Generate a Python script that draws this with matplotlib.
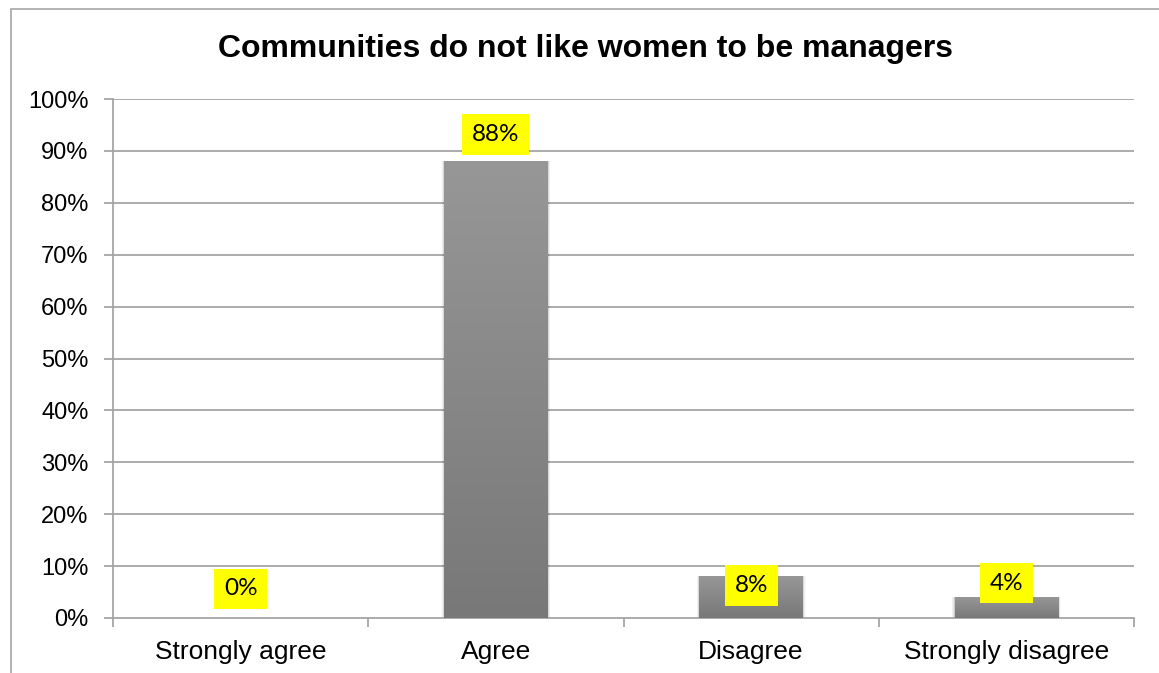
import numpy as np
import matplotlib
matplotlib.use("Agg")
import matplotlib.pyplot as plt
from matplotlib.patches import Rectangle
from matplotlib.ticker import FixedLocator

categories = ["Strongly agree", "Agree", "Disagree", "Strongly disagree"]
values = [0, 88, 8, 4]
value_labels = ["0%", "88%", "8%", "4%"]
y_ticks = [0, 10, 20, 30, 40, 50, 60, 70, 80, 90, 100]
y_tick_labels = [f"{t}%" for t in y_ticks]
title = "Communities do not like women to be managers"

# vertical placement of each data label (label centre, in data units)
label_centres = [5.6, 93.2, 6.3, 6.7]

W, H = 1159, 673
fig = plt.figure(figsize=(W / 100, H / 100), dpi=100)
fig.patch.set_facecolor("white")

# outer chart border
fig.add_artist(Rectangle((11 / W, -0.2), 2.0, (H - 9) / H + 0.2,
                         transform=fig.transFigure, fill=False,
                         ec="#a6a6a6", lw=1.2))

ax = fig.add_axes([113 / W, 1 - 618 / H, (1134 - 113) / W, (618 - 99) / H])
n = len(categories)
x = np.arange(n)

grid_c = "#a5a5a5"
for t in y_ticks[1:]:
    ax.axhline(t, color=grid_c, lw=1.3, zorder=0)

for s in ["top", "right"]:
    ax.spines[s].set_visible(False)
for s in ["left", "bottom"]:
    ax.spines[s].set_color(grid_c)
    ax.spines[s].set_linewidth(1.3)

ax.set_yticks(y_ticks)
ax.set_yticklabels(y_tick_labels, fontfamily="Liberation Sans", fontsize=17)
ax.tick_params(axis="y", length=6.5, width=1.3, color=grid_c, pad=11)

ax.set_xticks(x)
ax.set_xticklabels(categories, fontfamily="Liberation Sans", fontsize=19)
ax.tick_params(axis="x", which="major", length=0, pad=16)
ax.xaxis.set_minor_locator(FixedLocator(np.arange(n + 1) - 0.5))
ax.tick_params(axis="x", which="minor", length=6.5, width=1.3, color=grid_c)

bw = 0.405
grad = np.linspace(0, 1, 256).reshape(-1, 1)
cmap = matplotlib.colors.LinearSegmentedColormap.from_list(
    "bar", ["#787878", "#979797"])
bars = ax.bar(x, values, width=bw, color="none", edgecolor="none", zorder=3)
for xi, v, b in zip(x, values, bars):
    if v <= 0:
        continue
    # soft shadow along the sides of the bar
    for k, a in zip(range(5, 0, -1), [0.025, 0.035, 0.045, 0.055, 0.065]):
        dx = k * 0.0022
        ax.add_patch(Rectangle((xi - bw / 2 - dx, 0), bw + 2 * dx, v,
                               fc="#000000", ec="none", alpha=a, zorder=2))
    im = ax.imshow(grad, cmap=cmap, aspect="auto", origin="lower",
                   extent=(xi - bw / 2, xi + bw / 2, 0, v), zorder=3)
    im.set_clip_path(b)

ax.set_xlim(-0.5, n - 0.5)
ax.set_ylim(0, 100)

for xi, lab, yc in zip(x, value_labels, label_centres):
    ax.text(xi, yc, lab, ha="center", va="center", fontsize=17.5,
            fontfamily="Lato", color="black", zorder=5,
            bbox=dict(boxstyle="square,pad=0.4", fc="#ffff00", ec="none"))

fig.text(586 / W, 1 - 57 / H, title, ha="center", va="baseline",
         fontfamily="Liberation Sans", fontweight="bold", fontsize=23)

fig.savefig("out.png", dpi=100, facecolor="white")
